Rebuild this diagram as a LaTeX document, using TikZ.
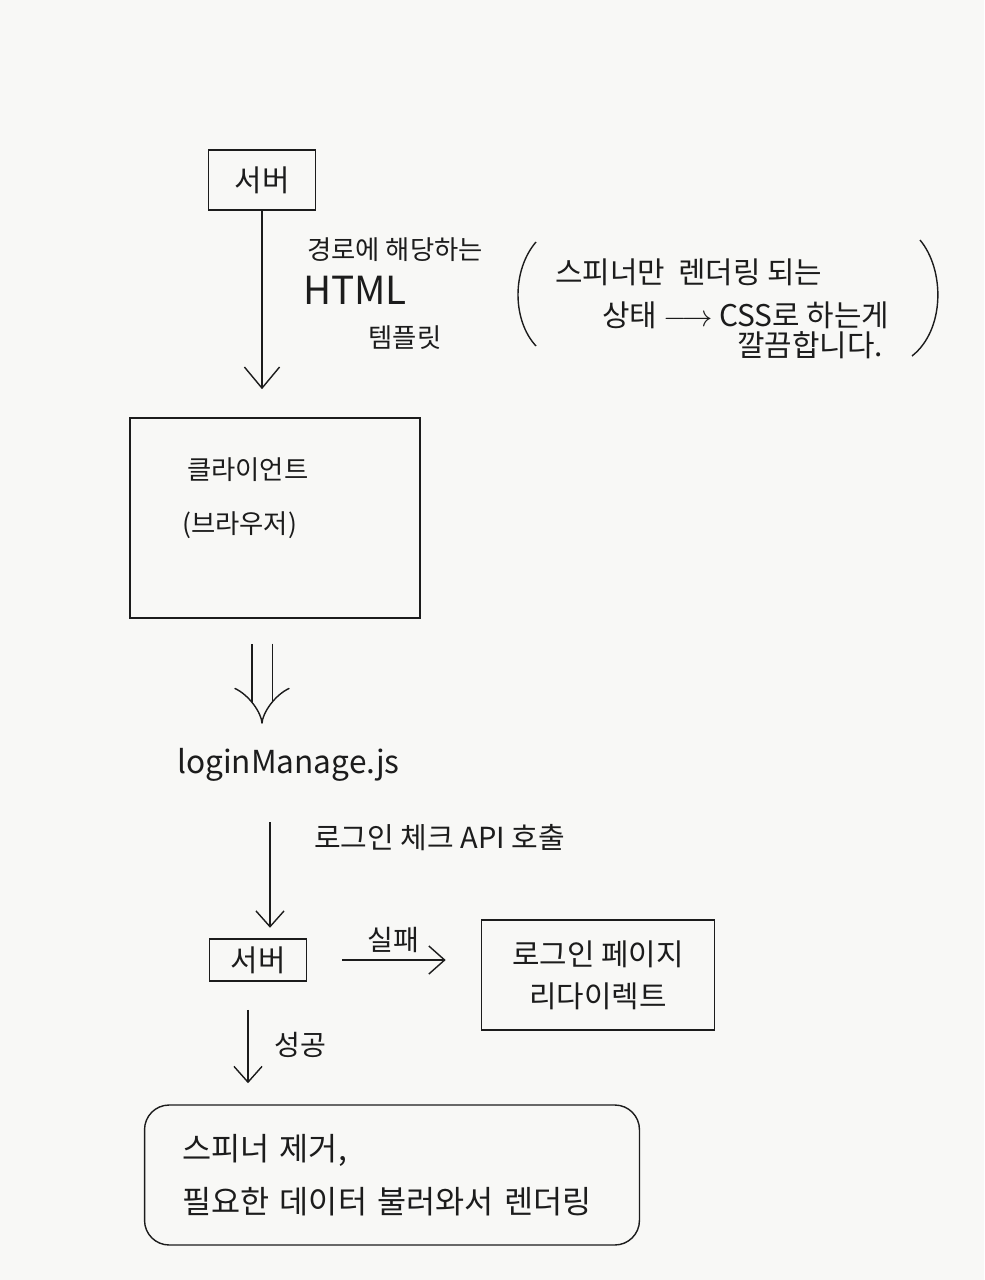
\documentclass[tikz,border=0pt]{standalone}
\usepackage{fontspec}
\setmainfont{Noto Sans CJK KR}
\usetikzlibrary{arrows.meta, positioning, calc}
\definecolor{paperWhite}{HTML}{F8F8F6}
\definecolor{inkBlack}{HTML}{1C1C1C}
\tikzset{
    % Text
    handText/.style={font=\fontsize{15}{20}\selectfont, text=inkBlack, inner sep=1pt},
    wideText/.style={font=\fontsize{17}{22}\selectfont, text=inkBlack, inner sep=1pt},
    bigText/.style={font=\fontsize{22}{26}\selectfont, text=inkBlack, inner sep=1pt},
    % Boxes
    serverBox/.style={draw=inkBlack, thick, rectangle, font=\fontsize{17}{20}\selectfont, text=inkBlack},
    plainBox/.style={draw=inkBlack, thick, rectangle},
    roundBox/.style={draw=inkBlack, thick, rectangle, rounded corners=14pt, align=left},
    % Arrows
    flowArrow/.style={-{Straight Barb[length=9pt, width=16pt]}, thick, draw=inkBlack},
    bigArrow/.style={-{Straight Barb[length=12pt, width=20pt]}, thick, draw=inkBlack},
    doubleArrow/.style={double=paperWhite, double distance=0.38cm, thick, draw=inkBlack, -{Implies}}
}
\begin{document}
\begin{tikzpicture}[x=0.02cm, y=-0.02cm]
    \fill[paperWhite] (0,0) rectangle (984,1280);
    \useasboundingbox (0,0) rectangle (984,1280);

    % Server (top)
    \node[serverBox, minimum width=2.14cm, minimum height=1.2cm] (serverTop) at (262,180) {서버};
    \node[handText] (pathLabel) at (395,250) {경로에 해당하는};
    \node[bigText] (htmlLabel) at (355,290) {HTML};
    \node[handText] (tplLabel) at (405,338) {템플릿};

    % Note in parentheses
    \node[wideText, anchor=west] (noteOne) at (553,272) {스피너만\ \ 렌더링 되는};
    \node[wideText, anchor=west] (noteTwo) at (600,315) {상태 $\longrightarrow$ CSS로 하는게};
    \node[wideText, anchor=west] (noteThree) at (735,345) {깔끔합니다.};
    \draw[inkBlack, thick] (536,242) .. controls (512,270) and (512,320) .. (536,346);
    \draw[inkBlack, thick] (920,240) .. controls (945,270) and (945,330) .. (912,356);

    % Client
    \node[plainBox, minimum width=5.8cm, minimum height=4cm] (client) at (275,518) {};
    \node[handText, anchor=west] (clientLabel) at (185,470) {클라이언트};
    \node[handText, anchor=west] (browserLabel) at (180,525) {(브라우저)};

    \draw[bigArrow, shorten >=16pt] (serverTop.south) -- (serverTop.south |- client.north);

    % loginManage
    \node[wideText, font=\fontsize{18}{22}\selectfont, anchor=west] (loginJs) at (175,765) {loginManage.js};
    \draw[doubleArrow, shorten <=0.5cm, shorten >=0.45cm] (client.south -| 262,0) -- (loginJs.north -| 262,0);

    % Server (middle)
    \node[serverBox, minimum width=1.94cm, minimum height=0.84cm] (serverMid) at (258,960) {서버};
    \draw[flowArrow, shorten <=22pt, shorten >=6pt] (loginJs.south -| 270,0) -- (serverMid.north -| 270,0);
    \node[wideText, font=\fontsize{16.5}{20}\selectfont, anchor=west] (apiLabel) at (312,838) {로그인 체크 API 호출};

    % Failure
    \node[plainBox, wideText, align=center, minimum width=4.66cm, minimum height=2.2cm] (redirect) at (598,975) {로그인 페이지\\[2pt]리다이렉트};
    \draw[flowArrow, shorten <=20pt, shorten >=20pt] (serverMid) -- (serverMid -| redirect.west);
    \node[handText, font=\fontsize{16}{20}\selectfont] (failLabel) at (393,940) {실패};

    % Success
    \node[roundBox, font=\fontsize{18}{24}\selectfont, text=inkBlack, text width=8.4cm, inner xsep=0.75cm, minimum height=2.8cm] (result) at (392,1175) {스피너 제거,\\[6pt]필요한 데이터 불러와서 렌더링};
    \draw[flowArrow, shorten <=16pt, shorten >=12pt] (serverMid.south -| 248,0) -- (result.north -| 248,0);
    \node[handText, font=\fontsize{16}{20}\selectfont] (successLabel) at (300,1045) {성공};
\end{tikzpicture}
\end{document}
